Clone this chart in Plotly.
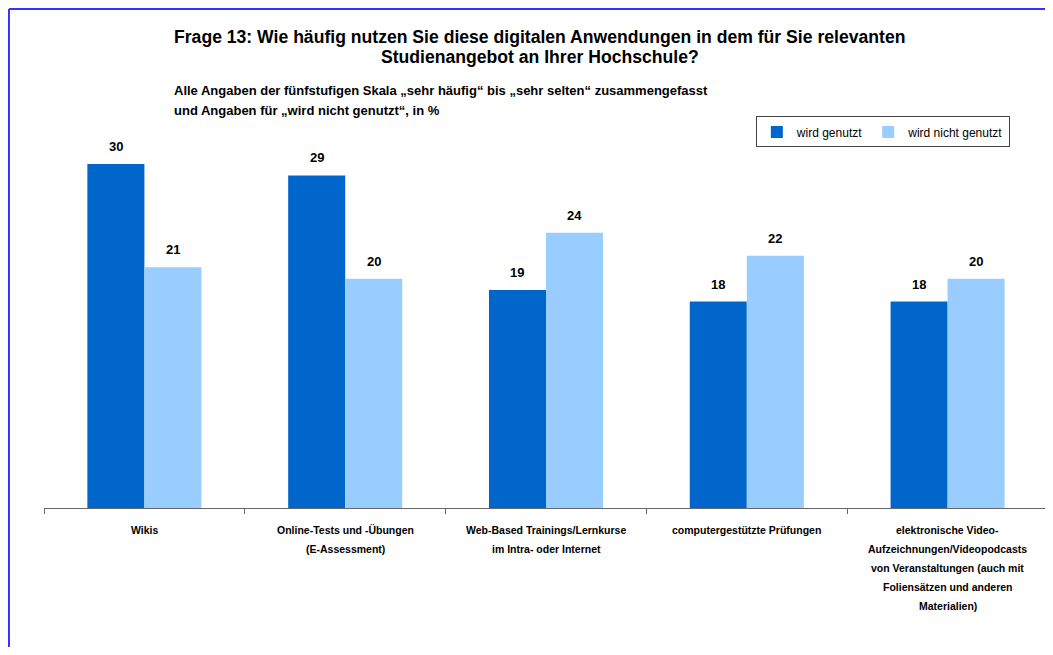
import plotly.graph_objects as go

# Kategorien und Werte (in %)
kategorien = [
    "Wikis",
    "Online-Tests und -Übungen<br>(E-Assessment)",
    "Web-Based Trainings/Lernkurse<br>im Intra- oder Internet",
    "computergestützte Prüfungen",
    "elektronische Video-<br>Aufzeichnungen/Videopodcasts<br>von Veranstaltungen (auch mit<br>Foliensätzen und anderen<br>Materialien)",
]
genutzt = [30, 29, 19, 18, 18]
nicht_genutzt = [21, 20, 24, 22, 20]

serien = ["wird genutzt", "wird nicht genutzt"]
farben = ["#0066CC", "#99CCFF"]

titel = [
    "Frage 13: Wie häufig nutzen Sie diese digitalen Anwendungen in dem für Sie relevanten",
    "Studienangebot an Ihrer Hochschule?",
]
untertitel = [
    "Alle Angaben der fünfstufigen Skala „sehr häufig“ bis „sehr selten“ zusammengefasst",
    "und Angaben für „wird nicht genutzt“, in %",
]

FONT = "Liberation Sans, Arial, sans-serif"
bw = 0.284  # Balkenbreite in Kategorie-Einheiten
idx = list(range(len(kategorien)))

fig = go.Figure()
for name, werte, farbe, off in [(serien[0], genutzt, farben[0], -bw),
                                (serien[1], nicht_genutzt, farben[1], 0)]:
    fig.add_trace(go.Bar(
        x=idx, y=werte, name=name, width=bw, offset=off,
        marker=dict(color=farbe, line=dict(width=0)),
    ))
    # Datenbeschriftungen
    for i, v in zip(idx, werte):
        fig.add_annotation(
            x=i + off + bw / 2, y=v, xref="x", yref="y",
            text=f"<b>{v}</b>", showarrow=False, yanchor="bottom", yshift=8,
            font=dict(family=FONT, size=13, color="#000000"),
        )

# Kategorie-Beschriftungen (zeilenweise, großer Zeilenabstand)
for i, kat in zip(idx, kategorien):
    for j, zeile in enumerate(kat.split("<br>")):
        fig.add_annotation(
            x=i, y=0, xref="x", yref="y", text=f"<b>{zeile}</b>",
            showarrow=False, yanchor="middle", yshift=-(22 + 19 * j),
            font=dict(family=FONT, size=10.5, color="#000000"),
        )

# Titel (zwei Zeilen)
for j, zeile in enumerate(titel):
    fig.add_annotation(
        x=0.494, y=1.246 - 0.0529 * j, xref="paper", yref="paper",
        showarrow=False, yanchor="middle", xanchor="center",
        text=f"<b>{zeile}</b>",
        font=dict(family=FONT, size=17.6, color="#000000"),
    )
for j, zeile in enumerate(untertitel):
    fig.add_annotation(
        x=0.1275, y=1.1058 - 0.0529 * j, xref="paper", yref="paper",
        showarrow=False, xanchor="left", yanchor="middle",
        text=f"<b>{zeile}</b>",
        font=dict(family=FONT, size=13, color="#000000"),
    )

# blauer Rahmen oben und links
fig.add_shape(type="line", xref="paper", yref="paper",
              x0=-0.0349, x1=1.01, y0=1.32, y1=1.32,
              line=dict(color="#3333FF", width=2))
fig.add_shape(type="line", xref="paper", yref="paper",
              x0=-0.0349, x1=-0.0349, y0=1.32, y1=-0.40,
              line=dict(color="#3333FF", width=2))

fig.update_layout(
    width=1045, height=639,
    margin=dict(l=36, r=5, t=122, b=139),
    plot_bgcolor="white", paper_bgcolor="white",
    barmode="overlay",
    font=dict(family=FONT, size=12, color="#000000"),
    showlegend=True,
    legend=dict(
        orientation="h", x=0.962, y=1.036, xanchor="right", yanchor="top",
        bordercolor="#444444", borderwidth=1, bgcolor="white",
        font=dict(family=FONT, size=12, color="#000000"),
        itemwidth=30, traceorder="normal", tracegroupgap=0,
    ),
    xaxis=dict(
        range=[-0.5, 4.5], showgrid=False, zeroline=False,
        showline=True, linecolor="#666666", linewidth=1,
        tickvals=[-0.5, 0.5, 1.5, 2.5, 3.5], ticks="outside", ticklen=5,
        tickcolor="#666666", showticklabels=False,
    ),
    yaxis=dict(range=[0, 32.96], showgrid=False, zeroline=False,
               showticklabels=False, showline=False),
)

fig.write_html("out.html")
